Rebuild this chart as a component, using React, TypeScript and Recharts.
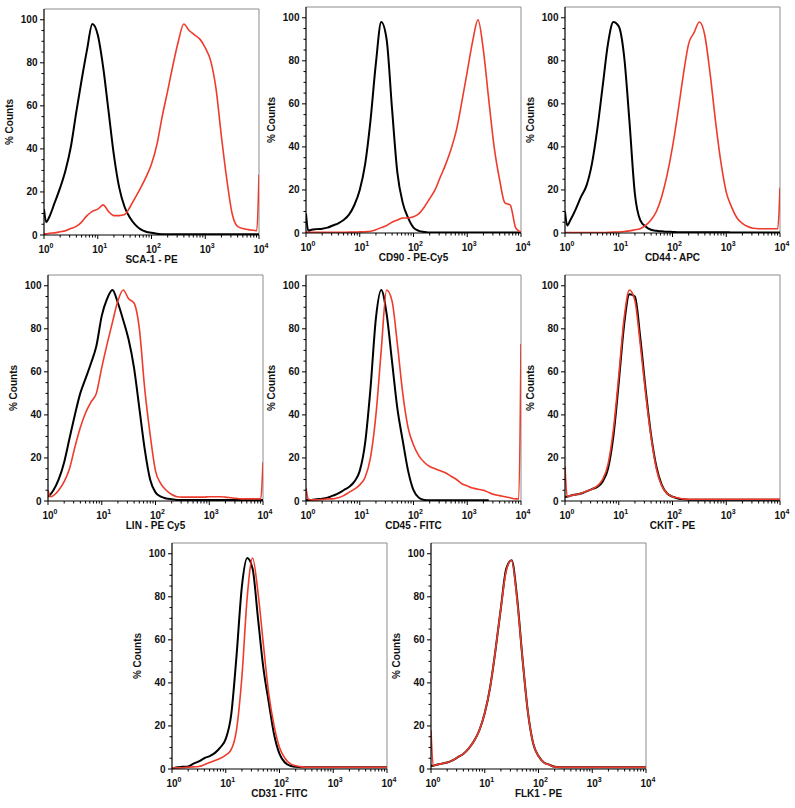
import { LineChart, Line, XAxis, YAxis, ReferenceLine } from "recharts";

// Fluorescence channels (log spaced, 0.1 decade apart plus the two edge bins)
const CHANNELS = [
  1, 1.1,
  1.26, 1.58, 2, 2.51, 3.16, 3.98, 5.01, 6.31, 7.94,
  10, 12.6, 15.8, 20, 25.1, 31.6, 39.8, 50.1, 63.1, 79.4,
  100, 126, 158, 200, 251, 316, 398, 501, 631, 794,
  1000, 1259, 1585, 1995, 2512, 3162, 3981, 5012, 6310, 7943,
  9100, 10000,
];

const X_TICKS = [
  1, 2, 3, 4, 5, 6, 7, 8, 9,
  10, 20, 30, 40, 50, 60, 70, 80, 90,
  100, 200, 300, 400, 500, 600, 700, 800, 900,
  1000, 2000, 3000, 4000, 5000, 6000, 7000, 8000, 9000,
  10000,
];
const Y_TICKS = [0, 5, 10, 15, 20, 25, 30, 35, 40, 45, 50, 55, 60, 65, 70, 75, 80, 85, 90, 95, 100];

// % counts per channel: black = isotype control, red = stained
const SCA1_CONTROL = [
  12, 6,
  8.5, 15, 22, 30, 41, 57, 72, 86, 98,
  93, 78, 58, 37, 22, 13, 8, 4.7, 2.6, 1.5,
  1, 0.6, 0.4, 0.3, 0.3, 0.3, 0.3, 0.3, 0.3, 0.3,
  0.3, 0.3, 0.3, 0.3, 0.3, 0.3, 0.3, 0.3, 0.3, 0.3,
  0.3, 0.3,
];
const SCA1_STAINED = [
  0.5, 0.5,
  0.8, 1, 1.5, 2, 3, 4, 6, 9, 11,
  12, 14, 11, 9, 9, 9.5, 13, 17.5, 22, 27,
  33, 42, 55, 67, 79, 90, 98, 95, 93, 91,
  87, 81, 68, 46, 26, 10, 4, 3, 2.5, 2.2,
  2, 28,
];

const CD90_CONTROL = [
  9, 1,
  1.5, 1.8, 2, 2.5, 3.5, 4.5, 6, 8.5, 13,
  20, 32, 52, 79, 98, 90, 58, 28, 14, 7,
  2.5, 1, 0.5, 0.2, 0.2, 0.2, 0.2, 0.2, 0.2, 0.2,
  0.2, 0.2, 0.2, 0.2, 0.2, 0.2, 0.2, 0.2, 0.2, 0.2,
  0.2, 0.2,
];
const CD90_STAINED = [
  0.3, 0.3,
  0.3, 0.3, 0.3, 0.3, 0.3, 0.3, 0.3, 0.4, 0.4,
  0.5, 0.6, 0.8, 1.5, 2.5, 3.5, 5, 6, 7, 7,
  7.5, 9, 12, 16, 20, 26, 32, 39, 48, 61,
  75, 89, 99, 85, 62, 40, 25, 14, 13, 2.5,
  1, 0.5,
];

const CD44_CONTROL = [
  10, 3.5,
  6, 11, 17, 22, 32, 48, 68, 88, 98,
  96, 82, 52, 18, 6, 3, 1.5, 1, 0.8, 0.6,
  0.5, 0.4, 0.4, 0.4, 0.4, 0.4, 0.4, 0.4, 0.4, 0.4,
  0.4, 0.2, 0.2, 0.2, 0.2, 0.2, 0.2, 0.2, 0.2, 0.2,
  0.2, 0.2,
];
const CD44_STAINED = [
  0.2, 0.2,
  0.2, 0.2, 0.2, 0.2, 0.2, 0.2, 0.2, 0.3, 0.4,
  0.5, 0.7, 1, 1.5, 2, 3.5, 6, 10, 17, 27,
  40, 56, 73, 88, 93, 98, 92, 74, 52, 33,
  19, 12, 7, 4.5, 3, 2.2, 2, 2, 2, 2,
  2, 21,
];

const LIN_CONTROL = [
  2, 3,
  5, 10, 18, 29, 40, 50, 57, 64, 72,
  86, 94, 98, 92, 84, 75, 62, 43, 24, 10,
  4, 2, 1.2, 0.8, 0.5, 0.5, 0.5, 0.5, 0.5, 0.5,
  0.5, 0.5, 0.5, 0.5, 0.5, 0.5, 0.5, 0.5, 0.5, 0.5,
  0.5, 0.5,
];
const LIN_STAINED = [
  5, 2,
  2.5, 5, 9, 15, 25, 34, 41, 46, 50,
  62, 73, 83, 93, 98, 94, 92, 80, 52, 31,
  14, 8, 5, 3, 2, 1.8, 1.8, 1.8, 1.8, 1.8,
  2, 2, 2, 1.8, 1.5, 1.2, 1, 1, 1, 1,
  1, 18,
];

const CD45_CONTROL = [
  0.5, 0.5,
  0.5, 0.8, 1, 1.5, 2.5, 3.5, 5, 6.5, 9,
  14, 27, 52, 85, 98, 87, 65, 43, 28, 14,
  5, 1.5, 0.5, 0.3, 0.3, 0.3, 0.3, 0.3, 0.3, 0.3,
  0.3, 0.3, 0.3, 0.3, 0.3, null, null, null, null, null,
  null, null,
];
const CD45_STAINED = [
  6, 1,
  0.5, 0.5, 0.7, 1, 1, 1.5, 2.5, 4, 5.5,
  7.5, 11, 20, 40, 70, 98, 93, 73, 50, 34,
  26, 21, 18, 16, 15, 14, 13, 11.5, 10, 8,
  7, 6, 5.5, 5, 4, 3, 2.5, 2, 1.5, 1,
  1, 73,
];

const CKIT_CONTROL = [
  2, 2,
  2.5, 3, 3.5, 4.5, 5.5, 6.5, 9, 15, 30,
  55, 82, 96, 95, 76, 52, 31, 16, 7.5, 3.5,
  2, 1.2, 0.8, 0.6, 0.6, 0.6, 0.6, 0.6, 0.6, 0.6,
  0.6, 0.6, 0.6, 0.6, 0.6, 0.6, 0.6, 0.6, 0.6, 0.6,
  0.6, 0.6,
];
const CKIT_STAINED = [
  16, 2,
  2.5, 3, 3.5, 4.5, 5.5, 7, 10, 17, 33,
  58, 85, 98, 93, 73, 50, 30, 15, 7, 3.5,
  2, 1.5, 1, 0.8, 0.8, 0.8, 0.8, 0.8, 0.8, 0.8,
  0.8, 0.8, 0.8, 0.8, 0.8, 0.8, 0.8, 0.8, 0.8, 0.8,
  0.8, 0.8,
];

const CD31_CONTROL = [
  0.5, 0.5,
  0.8, 1, 1.2, 2.5, 3.5, 5, 6, 7.5, 10,
  14, 25, 52, 85, 98, 93, 70, 47, 31, 16,
  7, 3, 1.5, 1, 0.8, 0.8, 0.8, 0.8, 0.8, 0.8,
  0.8, 0.8, 0.8, 0.8, 0.8, 0.8, 0.8, 0.8, 0.8, 0.8,
  0.8, 0.8,
];
const CD31_STAINED = [
  0.5, 0.5,
  0.5, 0.6, 0.8, 1, 1.2, 2, 3, 4, 5,
  6.5, 9, 18, 43, 80, 98, 82, 58, 35, 20,
  10, 5, 2.5, 1.5, 1, 0.8, 0.8, 0.8, 0.8, 0.8,
  0.8, 0.8, 0.8, 0.8, 0.8, 0.8, 0.8, 0.8, 0.8, 0.8,
  0.8, 0.8,
];

const FLK1_CONTROL = [
  1.5, 1.5,
  2, 2.5, 3, 4, 5.5, 7, 9.5, 13, 18,
  26, 38, 55, 75, 93, 97, 80, 52, 27, 12,
  6, 3, 2, 1, 0.8, 0.8, 0.8, 0.8, 0.8, 0.8,
  0.8, 0.8, 0.8, 0.8, 0.8, 0.8, 0.8, 0.8, 0.8, 0.8,
  0.8, 0.8,
];
const FLK1_STAINED = [
  18, 1.5,
  2, 2.5, 3, 4, 5.5, 7, 9.5, 13, 18,
  26, 38, 55, 75, 92, 97, 79, 52, 27, 12,
  6, 3, 2, 1, 0.8, 0.8, 0.8, 0.8, 0.8, 0.8,
  0.8, 0.8, 0.8, 0.8, 0.8, 0.8, 0.8, 0.8, 0.8, 0.8,
  0.8, 0.8,
];

const PANELS = [
  { title: "SCA-1 - PE", control: SCA1_CONTROL, stained: SCA1_STAINED },
  { title: "CD90 - PE-Cy5", control: CD90_CONTROL, stained: CD90_STAINED },
  { title: "CD44 - APC", control: CD44_CONTROL, stained: CD44_STAINED },
  { title: "LIN - PE Cy5", control: LIN_CONTROL, stained: LIN_STAINED },
  { title: "CD45 - FITC", control: CD45_CONTROL, stained: CD45_STAINED },
  { title: "CKIT - PE", control: CKIT_CONTROL, stained: CKIT_STAINED },
  { title: "CD31 - FITC", control: CD31_CONTROL, stained: CD31_STAINED },
  { title: "FLK1 - PE", control: FLK1_CONTROL, stained: FLK1_STAINED },
];

// top-left corner of each chart on the page
const POSITIONS = [
  { left: 2, top: 5 },
  { left: 264, top: 3 },
  { left: 523, top: 3 },
  { left: 6, top: 271 },
  { left: 264, top: 271 },
  { left: 523, top: 271 },
  { left: 130, top: 539 },
  { left: 389, top: 539 },
];

const FONT = '"Liberation Sans", Arial, Helvetica, sans-serif';
const RED = "#ee3b2b";
const FRAME = "#8c8c8c";

function XTick(props: any) {
  const { x, y, payload } = props;
  const v = payload.value;
  const exp = Math.round(Math.log10(v));
  const major = Math.abs(v - Math.pow(10, exp)) < 1e-6;
  return (
    <g>
      <line x1={x} x2={x} y1={y} y2={y + (major ? 4 : 2.5)} stroke="#000" strokeWidth={1} />
      {major && (
        <text x={x - 5.6} y={y + 17.5} fontSize={10} fontWeight="bold" fontFamily={FONT} fill="#111">
          10
          <tspan dy={-4.5} fontSize={7}>
            {exp}
          </tspan>
        </text>
      )}
    </g>
  );
}

function YTick(props: any) {
  const { x, y, payload } = props;
  const major = payload.value % 20 === 0;
  return (
    <g>
      <line x1={x - (major ? 4 : 2.5)} x2={x} y1={y} y2={y} stroke="#000" strokeWidth={1} />
      {major && (
        <text x={x - 6.5} y={y + 3.5} textAnchor="end" fontSize={10} fontWeight="bold" fontFamily={FONT} fill="#111">
          {payload.value}
        </text>
      )}
    </g>
  );
}

function xTitle(text: string) {
  return (props: any) => {
    const vb = props.viewBox;
    return (
      <text x={vb.x + vb.width / 2} y={vb.y + 27.5} textAnchor="middle" fontSize={10} fontWeight="bold" fontFamily={FONT} fill="#111">
        {text}
      </text>
    );
  };
}

function yTitle(props: any) {
  const vb = props.viewBox;
  const cx = vb.x + vb.width - 34;
  const cy = vb.y + vb.height / 2;
  return (
    <text
      x={cx}
      y={cy}
      transform={`rotate(-90 ${cx} ${cy})`}
      textAnchor="middle"
      dominantBaseline="middle"
      fontSize={10}
      fontWeight="bold"
      fontFamily={FONT}
      fill="#111"
    >
      % Counts
    </text>
  );
}

function Histogram({ title, control, stained }: { title: string; control: (number | null)[]; stained: number[] }) {
  const rows = CHANNELS.map((c, i) => ({ x: c, control: control[i], stained: stained[i] }));
  return (
    <LineChart width={267} height={266} data={rows} margin={{ top: 4, right: 10, bottom: 0, left: 0 }}>
      <XAxis
        dataKey="x"
        type="number"
        scale="log"
        domain={[1, 10000]}
        allowDataOverflow
        ticks={X_TICKS}
        interval={0}
        tickSize={0}
        tickMargin={0}
        tickLine={false}
        tick={<XTick />}
        height={36}
        axisLine={{ stroke: "#000", strokeWidth: 1.2 }}
        label={xTitle(title)}
      />
      <YAxis
        type="number"
        domain={[0, 105]}
        allowDataOverflow
        ticks={Y_TICKS}
        interval={0}
        tickSize={0}
        tickMargin={0}
        tickLine={false}
        tick={<YTick />}
        width={42}
        axisLine={{ stroke: "#000", strokeWidth: 1.2 }}
        label={yTitle}
      />
      <ReferenceLine y={105} stroke={FRAME} strokeWidth={1} />
      <ReferenceLine x={10000} stroke={FRAME} strokeWidth={1} />
      <Line dataKey="control" type="monotone" stroke="#000" strokeWidth={2} dot={false} isAnimationActive={false} />
      <Line dataKey="stained" type="monotone" stroke={RED} strokeWidth={1.6} dot={false} isAnimationActive={false} />
    </LineChart>
  );
}

export default function App() {
  return (
    <div style={{ position: "absolute", left: 0, top: 0, width: 795, height: 808, background: "#fff" }}>
      {PANELS.map((p, i) => (
        <div key={p.title} style={{ position: "absolute", left: POSITIONS[i].left, top: POSITIONS[i].top }}>
          <Histogram title={p.title} control={p.control} stained={p.stained} />
        </div>
      ))}
    </div>
  );
}
